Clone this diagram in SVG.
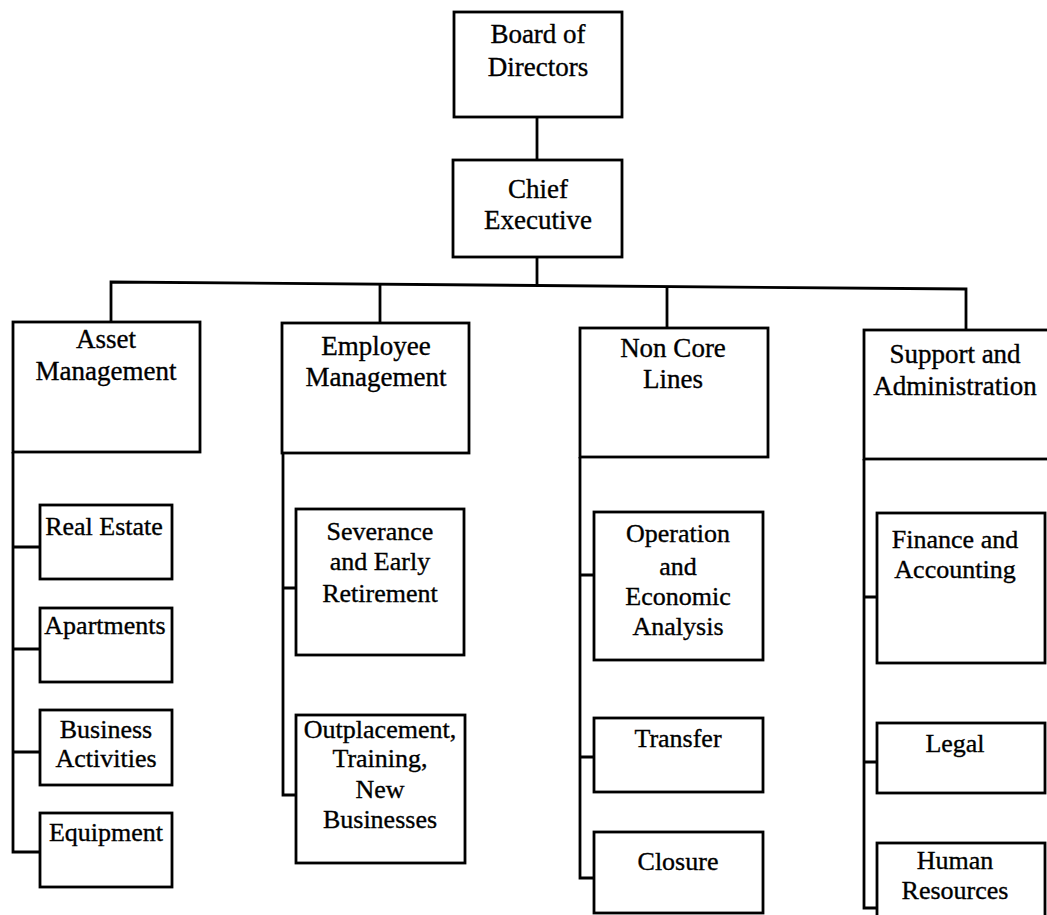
<svg xmlns="http://www.w3.org/2000/svg" width="1047" height="915" viewBox="0 0 1047 915">
<style>
.box{fill:#fff;stroke:#000;stroke-width:2.8}
.ln{fill:none;stroke:#000;stroke-width:2.8}
text{font-family:"Liberation Serif","Times New Roman",serif;font-size:27px;fill:#000;stroke:#000;stroke-width:0.35;text-anchor:middle}
.s{font-size:26px}
</style>
<rect width="1047" height="915" fill="#fff"/>
<g id="connectors">
<path class="ln" d="M537,117 V160"/>
<path class="ln" d="M537,257 V286"/>
<path class="ln" d="M111,322 V282 L966,289 V330"/>
<path class="ln" d="M380,284 V323"/>
<path class="ln" d="M667,287 V328"/>
<path class="ln" d="M13,452 V852 H40"/>
<path class="ln" d="M13,547 H40 M13,649 H40 M13,752 H40"/>
<path class="ln" d="M283,453 V795 H296 M283,588 H296"/>
<path class="ln" d="M580,457 V878 H594 M580,575 H594 M580,757 H594"/>
<path class="ln" d="M864,459 V908 H877 M864,597 H877 M864,762 H877"/>
</g>
<g id="board"><rect class="box" x="454" y="12" width="168" height="105"/><text x="538" y="43">Board of</text><text x="538" y="76">Directors</text></g>
<g id="chief"><rect class="box" x="453" y="160" width="169" height="97"/><text x="538" y="198">Chief</text><text x="538" y="229">Executive</text></g>
<g id="asset"><rect class="box" x="13" y="322" width="187" height="130"/><text x="106" y="348">Asset</text><text x="106" y="380">Management</text></g>
<g id="employee"><rect class="box" x="282" y="323" width="187" height="130"/><text x="376" y="355">Employee</text><text x="376" y="386">Management</text></g>
<g id="noncore"><rect class="box" x="580" y="328" width="188" height="129"/><text x="673" y="357">Non Core</text><text x="673" y="388">Lines</text></g>
<g id="support"><rect class="box" x="864" y="330" width="190" height="129"/><text x="955" y="363">Support and</text><text x="955" y="395">Administration</text></g>
<g id="realestate"><rect class="box" x="40" y="505" width="132" height="74"/><text class="s" x="104" y="535">Real Estate</text></g>
<g id="apartments"><rect class="box" x="40" y="608" width="132" height="74"/><text class="s" x="105" y="634">Apartments</text></g>
<g id="business"><rect class="box" x="40" y="710" width="132" height="75"/><text class="s" x="106" y="738">Business</text><text class="s" x="106" y="767">Activities</text></g>
<g id="equipment"><rect class="box" x="40" y="813" width="132" height="74"/><text class="s" x="106" y="841">Equipment</text></g>
<g id="severance"><rect class="box" x="296" y="509" width="168" height="146"/><text class="s" x="380" y="540">Severance</text><text class="s" x="380" y="570">and Early</text><text class="s" x="380" y="602">Retirement</text></g>
<g id="outplacement"><rect class="box" x="296" y="715" width="169" height="148"/><text class="s" x="380" y="738">Outplacement,</text><text class="s" x="380" y="767">Training,</text><text class="s" x="380" y="798">New</text><text class="s" x="380" y="828">Businesses</text></g>
<g id="operation"><rect class="box" x="594" y="512" width="169" height="148"/><text class="s" x="678" y="542">Operation</text><text class="s" x="678" y="575">and</text><text class="s" x="678" y="605">Economic</text><text class="s" x="678" y="635">Analysis</text></g>
<g id="transfer"><rect class="box" x="594" y="718" width="169" height="74"/><text class="s" x="678" y="747">Transfer</text></g>
<g id="closure"><rect class="box" x="594" y="832" width="169" height="81"/><text class="s" x="678" y="870">Closure</text></g>
<g id="finance"><rect class="box" x="877" y="513" width="168" height="150"/><text class="s" x="955" y="548">Finance and</text><text class="s" x="955" y="578">Accounting</text></g>
<g id="legal"><rect class="box" x="877" y="723" width="168" height="70"/><text class="s" x="955" y="752">Legal</text></g>
<g id="hr"><rect class="box" x="877" y="843" width="168" height="80"/><text class="s" x="955" y="869">Human</text><text class="s" x="955" y="899">Resources</text></g>
</svg>
